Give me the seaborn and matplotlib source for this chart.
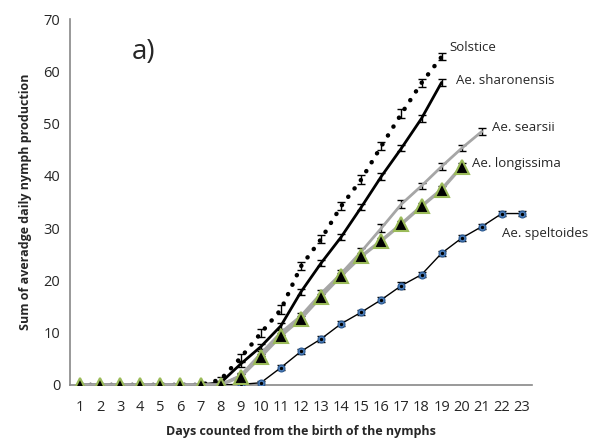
import numpy as np
import pandas as pd
import seaborn as sns
import matplotlib.pyplot as plt

sns.set_style("white")
plt.rcParams['font.family'] = ['Open Sans', 'DejaVu Sans']

# dados
dias = list(range(1, 24))
solstice = [0, 0, 0, 0, 0, 0, 0, 1.0, 5.2, 9.9, 14.4, 22.7, 27.9, 34.2, 39.3, 45.7, 51.9, 57.8, 62.8]
solstice_err = [0, 0, 0, 0, 0, 0, 0, 0.5, 0.8, 0.8, 0.8, 0.8, 0.8, 0.8, 0.8, 0.8, 0.9, 0.8, 0.7]
sharonensis = [0, 0, 0, 0, 0, 0, 0, 0.4, 4.0, 7.3, 11.3, 17.8, 23.3, 28.3, 34.0, 39.9, 45.3, 51.0, 57.9]
sharonensis_err = [0, 0, 0, 0, 0, 0, 0, 0.3, 0.5, 0.5, 0.6, 0.6, 0.6, 0.6, 0.6, 0.6, 0.6, 0.6, 0.6]
searsii = [0, 0, 0, 0, 0, 0, 0, 0, 1.8, 6.0, 10.0, 13.2, 17.5, 21.3, 25.5, 30.0, 34.6, 38.1, 41.8, 45.3, 48.5]
searsii_err = [0, 0, 0, 0, 0, 0, 0, 0, 0.4, 0.5, 0.5, 0.6, 0.6, 0.6, 0.7, 0.8, 0.7, 0.6, 0.6, 0.6, 0.6]
longissima = [0, 0, 0, 0, 0, 0, 0, 0, 1.6, 5.4, 9.4, 12.7, 16.9, 20.9, 24.6, 27.6, 30.8, 34.2, 37.4, 41.8]
longissima_err = [0, 0, 0, 0, 0, 0, 0, 0, 0.4, 0.5, 0.5, 0.5, 0.5, 0.5, 0.6, 0.6, 0.6, 0.6, 0.6, 0.6]
speltoides = [0, 0, 0, 0, 0, 0, 0, 0, 0.1, 0.4, 3.3, 6.4, 8.8, 11.7, 13.9, 16.3, 19.0, 21.1, 25.2, 28.1, 30.3, 32.8, 32.8]
speltoides_err = [0, 0, 0, 0, 0, 0, 0, 0, 0.3, 0.4, 0.5, 0.5, 0.5, 0.5, 0.5, 0.5, 0.6, 0.5, 0.5, 0.5, 0.5, 0.5, 0.5]

fig = plt.figure(figsize=(6.08, 4.47), dpi=100)
ax = fig.add_axes([0.115, 0.139, 0.76, 0.818])

def serie(vals):
    return pd.DataFrame({"dia": dias[:len(vals)], "valor": vals})

# barras de erro
for vals, err in [(solstice, solstice_err), (sharonensis, sharonensis_err),
                  (searsii, searsii_err), (longissima, longissima_err),
                  (speltoides, speltoides_err)]:
    d = serie(vals)
    ax.errorbar(d["dia"], d["valor"], yerr=err, fmt="none", ecolor="black",
                elinewidth=1, capsize=3, capthick=1, zorder=2)

# linhas
sns.lineplot(data=serie(speltoides), x="dia", y="valor", ax=ax, color="black", lw=1,
             marker="o", markersize=5, markerfacecolor="#4f81bd",
             markeredgecolor="#2c5a92", markeredgewidth=0.8, zorder=3)
ax.scatter(dias[:len(speltoides)], speltoides, s=2, color="black", zorder=4)
sns.lineplot(data=serie(searsii), x="dia", y="valor", ax=ax, color="#a6a6a6", lw=2, zorder=3)
sns.lineplot(data=serie(sharonensis), x="dia", y="valor", ax=ax, color="black", lw=2, zorder=3)
sns.lineplot(data=serie(solstice), x="dia", y="valor", ax=ax, color="black", lw=3.2,
             linestyle=(0, (0.05, 2.3)), dash_capstyle="round", zorder=3)
sns.lineplot(data=serie(longissima), x="dia", y="valor", ax=ax, color="#a6a6a6", lw=2.5,
             marker="^", markersize=10, markerfacecolor="black",
             markeredgecolor="#9bbb59", markeredgewidth=1.5, zorder=5)

# rótulos das séries
fs = 9.5
ax.text(19.4, 64.5, "Solstice", fontsize=fs, va="center")
ax.text(19.7, 58.3, "Ae. sharonensis", fontsize=fs, va="center")
ax.text(21.5, 49.3, "Ae. searsii", fontsize=fs, va="center")
ax.text(20.5, 42.3, "Ae. longissima", fontsize=fs, va="center")
ax.text(22.0, 29.0, "Ae. speltoides", fontsize=fs, va="center")
ax.text(3.6, 63.8, "a)", fontsize=20, va="center")

# eixos
ax.set_xlim(0.5, 23.5)
ax.set_ylim(0, 70)
ax.set_yticks(range(0, 71, 10))
ax.set_xticks(dias)
ax.set_xticks(np.arange(0.5, 24, 1), minor=True)
ax.tick_params(axis="x", which="major", length=0, labelsize=10.5, pad=11)
ax.tick_params(axis="x", which="minor", length=5, color="#888888", direction="out")
ax.tick_params(axis="y", length=5, color="#888888", direction="out", labelsize=10.5, pad=2)
for s in ["top", "right"]:
    ax.spines[s].set_visible(False)
for s in ["left", "bottom"]:
    ax.spines[s].set_color("#888888")
    ax.spines[s].set_linewidth(1.2)

ax.set_xlabel("Days counted from the birth of the nymphs", fontsize=9, fontweight="bold", labelpad=7)
ax.set_ylabel("Sum of averadge daily nymph production", fontsize=9, fontweight="bold", labelpad=8)

plt.savefig("out.png", dpi=100)
